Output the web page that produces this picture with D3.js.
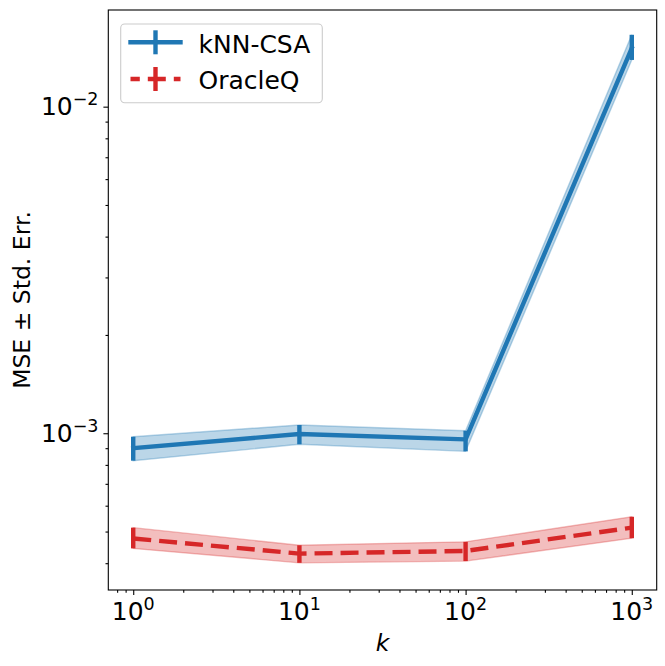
<!DOCTYPE html>
<html><head><meta charset="utf-8">
<script src="https://cdn.jsdelivr.net/npm/d3@7"></script>
<style>body{margin:0;background:#fff} text{font-family:"DejaVu Sans",sans-serif;fill:#000}</style>
</head><body><svg id="c" width="665" height="666"></svg>
<script>
// ---- data ----
const kValues = [1, 10, 100, 1000];
const knnMean = [9.0e-4, 9.95e-4, 9.58e-4, 0.0151];
const knnLo   = [8.24e-4, 9.25e-4, 8.8e-4, 0.0139];
const knnHi   = [9.76e-4, 1.06e-3, 1.018e-3, 0.0166];
const oracleMean = [4.76e-4, 4.28e-4, 4.36e-4, 5.14e-4];
const oracleLo   = [4.44e-4, 4.01e-4, 4.06e-4, 4.77e-4];
const oracleHi   = [5.14e-4, 4.54e-4, 4.65e-4, 5.55e-4];
const seriesNames = ["kNN-CSA", "OracleQ"];
const xMajor = [1, 10, 100, 1000];
const xMajorExp = ["0", "1", "2", "3"];
const xMinor = [0.8, 0.9, 2,3,4,5,6,7,8,9, 20,30,40,50,60,70,80,90, 200,300,400,500,600,700,800,900];
const yMajor = [1e-3, 1e-2];
const yMajorExp = ["\u22123", "\u22122"];
const yMinor = [4e-4,5e-4,6e-4,7e-4,8e-4,9e-4, 2e-3,3e-3,4e-3,5e-3,6e-3,7e-3,8e-3,9e-3];

const L = 108.3, R = 656.7, T = 10, B = 590;
const svg = d3.select("#c");
const x = d3.scaleLog().domain([Math.pow(10,-0.15), Math.pow(10,3.15)]).range([L, R]);
const y = d3.scaleLog().domain([Math.pow(10,-3.48), Math.pow(10,-1.704)]).range([B, T]);

const blue = "#1f77b4", red = "#d62728";
const LW = 4.4;

const series = [
  {name: seriesNames[0], color: blue, mean: knnMean, lo: knnLo, hi: knnHi, dash: null},
  {name: seriesNames[1], color: red, mean: oracleMean, lo: oracleLo, hi: oracleHi, dash: "18,8"}
];

const plot = svg.append("g");
// bands
series.forEach(s => {
  const pts = kValues.map((k,i)=>({k, lo:s.lo[i], hi:s.hi[i]}));
  const area = d3.area().x(d=>x(d.k)).y0(d=>y(d.lo)).y1(d=>y(d.hi));
  plot.append("path").attr("d", area(pts))
    .attr("fill", s.color).attr("fill-opacity", 0.3)
    .attr("stroke", s.color).attr("stroke-opacity", 0.3).attr("stroke-width", 1.4);
});
// lines + error bars
series.forEach(s => {
  const pts = kValues.map((k,i)=>({k, m:s.mean[i], lo:s.lo[i], hi:s.hi[i]}));
  const line = d3.line().x(d=>x(d.k)).y(d=>y(d.m));
  plot.append("path").attr("d", line(pts)).attr("fill","none")
    .attr("stroke", s.color).attr("stroke-width", LW)
    .attr("stroke-linejoin","round")
    .attr("stroke-linecap", s.dash ? "butt" : "square")
    .attr("stroke-dasharray", s.dash);
  plot.selectAll(null).data(pts).enter().append("line")
    .attr("x1", d=>x(d.k)).attr("x2", d=>x(d.k))
    .attr("y1", d=>y(d.lo)).attr("y2", d=>y(d.hi))
    .attr("stroke", s.color).attr("stroke-width", LW);
});

// axes ticks
const axB = svg.append("g").attr("transform", `translate(0,${B})`);
axB.call(d3.axisBottom(x).tickValues(xMajor).tickSize(4.9).tickFormat(""));
const axBm = svg.append("g").attr("transform", `translate(0,${B})`);
axBm.call(d3.axisBottom(x).tickValues(xMinor).tickSize(2.8).tickFormat(""));
const axL = svg.append("g").attr("transform", `translate(${L},0)`);
axL.call(d3.axisLeft(y).tickValues(yMajor).tickSize(4.9).tickFormat(""));
const axLm = svg.append("g").attr("transform", `translate(${L},0)`);
axLm.call(d3.axisLeft(y).tickValues(yMinor).tickSize(2.8).tickFormat(""));
svg.selectAll(".domain").remove();
svg.selectAll(".tick line").attr("stroke","#000").attr("stroke-width",1.1);

// spines
svg.append("rect").attr("x",L).attr("y",T).attr("width",R-L).attr("height",B-T)
  .attr("fill","none").attr("stroke","#000").attr("stroke-width",1.1);

// tick labels
const FS = 25, SUP = 17.5, LFS = 23.5;
xMajor.forEach((v,i)=>{
  const t = svg.append("text").attr("x", x(v)).attr("y", 620).attr("text-anchor","middle").style("font-size", FS+"px");
  t.append("tspan").text("10");
  t.append("tspan").attr("dy", -10).style("font-size", SUP+"px").text(xMajorExp[i]);
});
yMajor.forEach((v,i)=>{
  const t = svg.append("text").attr("x", 98.5).attr("y", y(v)+8.6).attr("text-anchor","end").style("font-size", FS+"px");
  t.append("tspan").text("10");
  t.append("tspan").attr("dy", -10).style("font-size", SUP+"px").text(yMajorExp[i]);
});

// axis labels
svg.append("text").attr("x", (L+R)/2).attr("y", 650.7).attr("text-anchor","middle")
  .style("font-size", LFS+"px").style("font-style","italic").text("k");
svg.append("text").attr("transform", `translate(30,${(T+B)/2}) rotate(-90)`).attr("text-anchor","middle")
  .style("font-size", LFS+"px").text("MSE \u00b1 Std. Err.");

// legend
const lg = svg.append("g");
lg.append("rect").attr("x",120.7).attr("y",24).attr("width",201.6).attr("height",78.7)
  .attr("rx",4).attr("fill","#fff").attr("fill-opacity",0.8).attr("stroke","#cccccc").attr("stroke-width",1.1);
const rows = [42.3, 79];
series.forEach((s,i)=>{
  const yy = rows[i];
  lg.append("line").attr("x1",130.5).attr("x2",180.5).attr("y1",yy).attr("y2",yy)
    .attr("stroke",s.color).attr("stroke-width",LW)
    .attr("stroke-linecap", s.dash ? "butt" : "square")
    .attr("stroke-dasharray", s.dash).attr("stroke-dashoffset", s.dash ? 8.7 : null);
  lg.append("line").attr("x1",155.5).attr("x2",155.5).attr("y1",yy-12).attr("y2",yy+12)
    .attr("stroke",s.color).attr("stroke-width",LW);
  lg.append("text").attr("x",198.5).attr("y",yy+10.4).style("font-size","25px").text(s.name);
});
</script></body></html>
